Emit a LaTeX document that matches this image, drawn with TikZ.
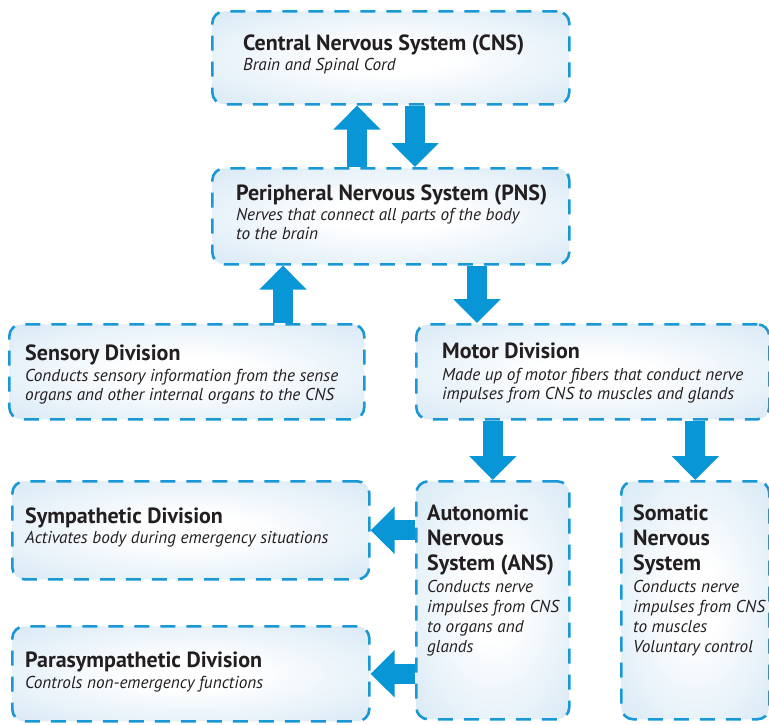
\documentclass[tikz,border=0pt]{standalone}
\usepackage{fontspec}
\setmainfont{PT Sans}
\usetikzlibrary{arrows.meta}
\definecolor{dashblue}{RGB}{26,152,214}
\definecolor{arrblue}{RGB}{8,150,214}
\definecolor{fillblue}{RGB}{203,226,242}
\definecolor{txtcol}{RGB}{35,31,32}
\pgfdeclareradialshading{boxshade}{\pgfpoint{0bp}{0bp}}{color(0bp)=(white); color(8bp)=(white); color(45bp)=(fillblue); color(80bp)=(fillblue)}
\newcommand\ttl[1]{\hbox{\fontsize{22}{26}\selectfont\bfseries #1}}
\newcommand\dsc[1]{\hbox{\fontsize{17.2}{20}\selectfont\itshape #1}}
\tikzset{
  box/.style={draw=dashblue, line width=2.6pt, dash pattern=on 15pt off 11pt,
    rounded corners=12pt, shading=boxshade, inner sep=0pt, anchor=north west},
  tx/.style={anchor=base west, inner sep=0pt, text=txtcol},
  barrow/.style={draw=arrblue, line width=20pt, -{Triangle[width=46pt,length=24pt]}}
}
\begin{document}
\begin{tikzpicture}[x=1pt,y=-1pt]
\fill[white] (0,0) rectangle (769,724);
\useasboundingbox (0,0) rectangle (769,724);
% boxes
\node[box, minimum width=357pt, minimum height=93pt] (cns) at (211,10) {};
\node[box, minimum width=357pt, minimum height=96pt] (pns) at (211,167) {};
\node[box, minimum width=355pt, minimum height=95pt] (sens) at (8,323) {};
\node[box, minimum width=353pt, minimum height=95pt] (motor) at (415,323) {};
\node[box, minimum width=357pt, minimum height=98pt] (symp) at (11,480) {};
\node[box, minimum width=357pt, minimum height=95pt] (para) at (11,625) {};
\node[box, minimum width=153pt, minimum height=238pt] (ans) at (415,480) {};
\node[box, minimum width=148pt, minimum height=238pt] (som) at (620,480) {};
% texts
\node[tx] (cnsT) at (243,50) {\vtop{\baselineskip=20pt \ttl{Central Nervous System (CNS)}\dsc{Brain and Spinal Cord}}};
\node[tx] (pnsT) at (236,200) {\vtop{\baselineskip=20pt \ttl{Peripheral Nervous System (PNS)}\dsc{Nerves that connect all parts of the body}\baselineskip=19.5pt\dsc{to the brain}}};
\node[tx] (sensT) at (25,360) {\vtop{\baselineskip=21pt \ttl{Sensory Division}\dsc{Conducts sensory information from the sense}\baselineskip=19.5pt\dsc{organs and other internal organs to the CNS}}};
\node[tx] (motorT) at (442,358) {\vtop{\baselineskip=22pt \ttl{Motor Division}\dsc{Made up of motor fibers that conduct nerve}\baselineskip=19.5pt\dsc{impulses from CNS to muscles and glands}}};
\node[tx] (ansT) at (427,520) {\vtop{\baselineskip=25pt \ttl{Autonomic}\ttl{Nervous}\ttl{System (ANS)}\baselineskip=22pt\dsc{Conducts nerve}\baselineskip=20pt\dsc{impulses from CNS}\dsc{to organs and}\dsc{glands}}};
\node[tx] (somT) at (633,520) {\vtop{\baselineskip=25pt \ttl{Somatic}\ttl{Nervous}\ttl{System}\baselineskip=22pt\dsc{Conducts nerve}\baselineskip=20pt\dsc{impulses from CNS}\dsc{to muscles}\dsc{Voluntary control}}};
\node[tx] (sympT) at (25,523) {\vtop{\baselineskip=20pt \ttl{Sympathetic Division}\dsc{Activates body during emergency situations}}};
\node[tx] (paraT) at (25,667) {\vtop{\baselineskip=21pt \ttl{Parasympathetic Division}\dsc{Controls non-emergency functions}}};
% arrows
\draw[barrow] ([xshift=146pt]pns.north west) -- ([xshift=146pt]cns.south west);
\draw[barrow] ([xshift=204pt]cns.south west) -- ([xshift=204pt]pns.north west);
\draw[barrow] ([xshift=275pt]sens.north west) -- ([xshift=72pt]pns.south west);
\draw[barrow] ([xshift=266pt]pns.south west) -- ([xshift=62pt]motor.north west);
\draw[barrow] (motor.south -| ans.north) -- (ans.north);
\draw[barrow] (motor.south -| som.north) -- (som.north);
\draw[barrow] (ans.west |- symp.east) -- (symp.east);
\draw[barrow] (ans.west |- para.east) -- (para.east);
\end{tikzpicture}
\end{document}
